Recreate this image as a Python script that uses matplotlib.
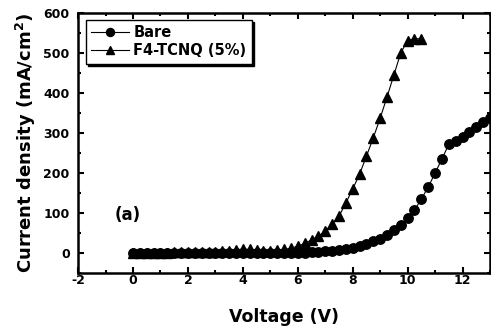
import numpy as np
import matplotlib
matplotlib.use("Agg")
import matplotlib.pyplot as plt
from matplotlib.ticker import MultipleLocator

plt.rcParams['font.family'] = ['DejaVu Sans']
plt.rcParams['font.weight'] = 'bold'
plt.rcParams['axes.unicode_minus'] = False
plt.rcParams['mathtext.default'] = 'bf'

# Bare device (circles), 0 .. 13 V step 0.25
bare_v = [i * 0.25 for i in range(53)]
bare_j = [0, 0, 0, 0, 0, 0, 0, 0, 0, 0, 0, 0, 0,
          0, 0, 0, 0, 0, 0, 0, 0, 0, 0, 0, 0,
          1, 2, 3, 4, 6, 8, 10, 13, 17, 22, 29, 36,
          46, 57, 71, 87, 107, 135, 165, 200, 235, 272, 280, 290,
          302, 315, 328, 337]

# F4-TCNQ (5%) device (triangles), 0 .. 10.5 V step 0.25
f4_v = [i * 0.25 for i in range(43)]
f4_j = [0, 0, 1, 1, 1, 1, 2, 2, 2, 2, 3, 3, 3,
        4, 6, 8, 10, 9, 7, 6, 6, 7, 9, 12, 17,
        24, 33, 42, 55, 72, 92, 125, 160, 197, 242, 288, 337,
        390, 445, 500, 531, 535, 536]

x_ticks = [-2, 0, 2, 4, 6, 8, 10, 12]
y_ticks = [0, 100, 200, 300, 400, 500, 600]

fig = plt.figure(figsize=(4.91, 3.31), dpi=100)
ax = fig.add_axes([0.159, 0.175, 0.839, 0.786])

ax.plot(bare_v, bare_j, '-o', color='black', lw=0.8, ms=6.8,
        label='Bare')
ax.plot(f4_v, f4_j, '-^', color='black', lw=0.8, ms=7.2,
        label='F4-TCNQ (5%)')

ax.set_xlim(-2, 13)
ax.set_ylim(-50, 600)
ax.set_xticks(x_ticks)
ax.set_yticks(y_ticks)
ax.xaxis.set_minor_locator(MultipleLocator(1))
ax.yaxis.set_minor_locator(MultipleLocator(50))
ax.tick_params(which='both', direction='in', top=True, right=True,
               width=1.5, labelsize=9)
ax.tick_params(axis='x', which='major', pad=1)
ax.tick_params(axis='y', which='major', pad=6)
ax.tick_params(which='major', length=4)
ax.tick_params(which='minor', length=2.5)
for lab in ax.get_xticklabels() + ax.get_yticklabels():
    lab.set_fontweight('bold')
for s in ax.spines.values():
    s.set_linewidth(1.8)

ax.set_xlabel('Voltage (V)', fontsize=12.5, fontweight='bold', labelpad=15)
ax.set_ylabel('Current density (mA/cm$^2$)', fontsize=13,
              fontweight='bold', labelpad=4)

ax.text(-0.2, 95, '(a)', fontsize=12, fontweight='bold', ha='center',
        va='center')

leg = ax.legend(loc='upper left', bbox_to_anchor=(0.012, 0.985),
                fontsize=10.5, frameon=True, fancybox=False,
                shadow={'color': 'black', 'alpha': 1, 'ox': 1.5, 'oy': -1.5},
                handlelength=2.6, handletextpad=0.3, borderpad=0.35,
                labelspacing=0.25, borderaxespad=0.2, markerscale=0.85)
leg.get_frame().set_edgecolor('black')
leg.get_frame().set_linewidth(1.0)
for t in leg.get_texts():
    t.set_fontweight('bold')

fig.savefig('out.png', dpi=100)
